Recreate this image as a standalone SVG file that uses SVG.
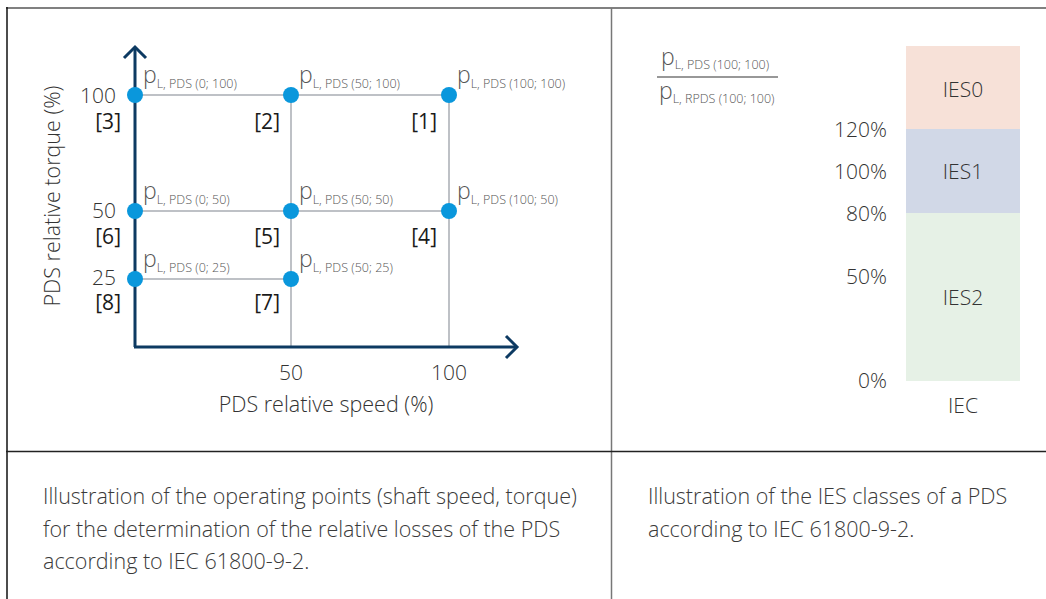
<svg xmlns="http://www.w3.org/2000/svg" width="1046" height="599" viewBox="0 0 1046 599">
<style>
text{font-family:"Open Sans","Noto Sans","Liberation Sans",sans-serif;font-weight:300;fill:#333}
.t20{font-size:21px}
.br{font-size:21px;fill:#1a1a1a;font-weight:400}
.p{font-size:23px;fill:#555}
.sub{font-size:12.5px;fill:#555}
.grid{stroke:#a8adb3;stroke-width:1.5;fill:none}
.axis{stroke:#0d3a62;stroke-width:3;fill:none}
.dot{fill:#0a97dc}
.cap{font-size:21.5px;fill:#3a3a3a}
</style>
<rect width="1046" height="599" fill="#fff"/>
<g id="frame">
<line x1="6" y1="8" x2="1046" y2="8" stroke="#808080" stroke-width="2"/>
<line x1="7" y1="7" x2="7" y2="599" stroke="#111" stroke-width="1.5"/>
<line x1="611.5" y1="8" x2="611.5" y2="599" stroke="#777" stroke-width="1.5"/>
<line x1="6" y1="451.5" x2="1046" y2="451.5" stroke="#222" stroke-width="1.5"/>
</g>
<g id="connectors">
<line class="grid" x1="135" y1="95" x2="449" y2="95"/>
<line class="grid" x1="135" y1="211" x2="449" y2="211"/>
<line class="grid" x1="135" y1="279" x2="291" y2="279"/>
<line class="grid" x1="291" y1="95" x2="291" y2="347"/>
<line class="grid" x1="449" y1="95" x2="449" y2="347"/>
<line class="axis" x1="135" y1="347" x2="135" y2="47"/>
<polyline class="axis" points="124,58 135,47 146,58"/>
<line class="axis" x1="134" y1="347" x2="517" y2="347"/>
<polyline class="axis" points="506,336 517,347 506,358"/>
</g>
<g id="points">
<g id="pt1"><circle class="dot" cx="449" cy="95" r="8"/><text x="457" y="83"><tspan class="p">p</tspan><tspan class="sub" dy="5">L, PDS (100; 100)</tspan></text><text class="br" x="437" y="129" text-anchor="end">[1]</text></g>
<g id="pt2"><circle class="dot" cx="291" cy="95" r="8"/><text x="299" y="83"><tspan class="p">p</tspan><tspan class="sub" dy="5">L, PDS (50; 100)</tspan></text><text class="br" x="280" y="129" text-anchor="end">[2]</text></g>
<g id="pt3"><circle class="dot" cx="135" cy="95" r="8"/><text x="143" y="83"><tspan class="p">p</tspan><tspan class="sub" dy="5">L, PDS (0; 100)</tspan></text><text class="br" x="121" y="129" text-anchor="end">[3]</text></g>
<g id="pt4"><circle class="dot" cx="449" cy="211" r="8"/><text x="457" y="199"><tspan class="p">p</tspan><tspan class="sub" dy="5">L, PDS (100; 50)</tspan></text><text class="br" x="437" y="244" text-anchor="end">[4]</text></g>
<g id="pt5"><circle class="dot" cx="291" cy="211" r="8"/><text x="299" y="199"><tspan class="p">p</tspan><tspan class="sub" dy="5">L, PDS (50; 50)</tspan></text><text class="br" x="280" y="244" text-anchor="end">[5]</text></g>
<g id="pt6"><circle class="dot" cx="135" cy="211" r="8"/><text x="143" y="199"><tspan class="p">p</tspan><tspan class="sub" dy="5">L, PDS (0; 50)</tspan></text><text class="br" x="121" y="244" text-anchor="end">[6]</text></g>
<g id="pt7"><circle class="dot" cx="291" cy="279" r="8"/><text x="299" y="267"><tspan class="p">p</tspan><tspan class="sub" dy="5">L, PDS (50; 25)</tspan></text><text class="br" x="280" y="310" text-anchor="end">[7]</text></g>
<g id="pt8"><circle class="dot" cx="135" cy="279" r="8"/><text x="143" y="267"><tspan class="p">p</tspan><tspan class="sub" dy="5">L, PDS (0; 25)</tspan></text><text class="br" x="121" y="310" text-anchor="end">[8]</text></g>
</g>
<g id="axis-labels">
<text class="t20" x="116" y="103" text-anchor="end">100</text>
<text class="t20" x="116" y="218" text-anchor="end">50</text>
<text class="t20" x="116" y="285" text-anchor="end">25</text>
<text class="t20" x="291" y="380" text-anchor="middle">50</text>
<text class="t20" x="449" y="380" text-anchor="middle">100</text>
<text class="t20" x="326" y="412" text-anchor="middle" style="font-size:21.5px">PDS relative speed (%)</text>
<text class="t20" x="0" y="0" text-anchor="middle" style="font-size:21.5px" transform="translate(60,196) rotate(-90)">PDS relative torque (%)</text>
</g>
<g id="fraction">
<text x="661" y="65"><tspan class="p">p</tspan><tspan class="sub" dy="4">L, PDS (100; 100)</tspan></text>
<line x1="657" y1="77" x2="778" y2="77" stroke="#333" stroke-width="1.2"/>
<text x="659" y="99"><tspan class="p">p</tspan><tspan class="sub" dy="4">L, RPDS (100; 100)</tspan></text>
</g>
<g id="ies-bar">
<g id="ies0"><rect x="906" y="46" width="114" height="83" fill="#f7e1d8"/><text class="t20" x="963" y="97" text-anchor="middle">IES0</text></g>
<g id="ies1"><rect x="906" y="129" width="114" height="84" fill="#d1d8e7"/><text class="t20" x="963" y="179" text-anchor="middle">IES1</text></g>
<g id="ies2"><rect x="906" y="213" width="114" height="168" fill="#e6f1e6"/><text class="t20" x="963" y="305" text-anchor="middle">IES2</text></g>
<text class="t20" x="963" y="413" text-anchor="middle">IEC</text>
</g>
<g id="percent-labels">
<text class="t20" x="887" y="137" text-anchor="end">120%</text>
<text class="t20" x="887" y="179" text-anchor="end">100%</text>
<text class="t20" x="887" y="221" text-anchor="end">80%</text>
<text class="t20" x="887" y="284" text-anchor="end">50%</text>
<text class="t20" x="887" y="388" text-anchor="end">0%</text>
</g>
<g id="captions">
<text class="cap" x="43" y="504">Illustration of the operating points (shaft speed, torque)</text>
<text class="cap" x="43" y="537">for the determination of the relative losses of the PDS</text>
<text class="cap" x="43" y="569">according to IEC 61800-9-2.</text>
<text class="cap" x="648" y="504">Illustration of the IES classes of a PDS</text>
<text class="cap" x="648" y="537">according to IEC 61800-9-2.</text>
</g>
</svg>
